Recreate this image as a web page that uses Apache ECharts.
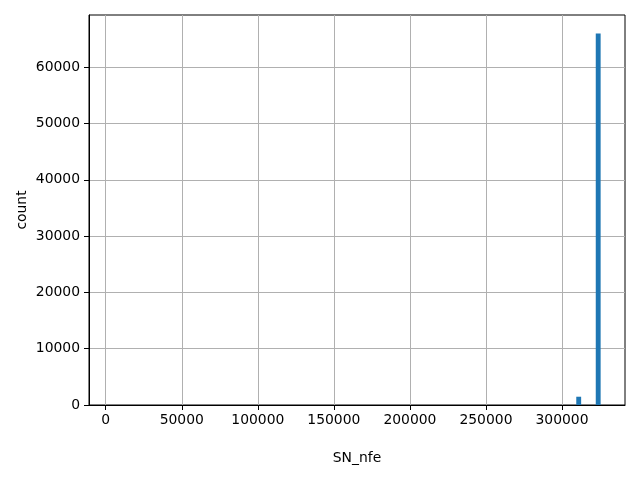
<!DOCTYPE html>
<html>
<head>
<meta charset="utf-8">
<script src="https://cdn.jsdelivr.net/npm/echarts@6/dist/echarts.min.js"></script>
<style>html,body{margin:0;padding:0;background:#fff}#c{width:640px;height:480px}</style>
</head>
<body>
<div id="c"></div>
<script>
const binStart = [309380, 322196];
const binEnd = [312584, 325400];
const counts = [1470, 65970];
const xTicks = [0, 50000, 100000, 150000, 200000, 250000, 300000];
const yTicks = [0, 10000, 20000, 30000, 40000, 50000, 60000];

const chart = echarts.init(document.getElementById('c'), null, {renderer: 'canvas'});
const font = 'DejaVu Sans';
const data = binStart.map((s, i) => [s, binEnd[i], counts[i]]);
const plain = v => String(v);
chart.setOption({
  animation: false,
  grid: {left: 89, right: 15, top: 15, bottom: 75, show: true, borderColor: '#000', borderWidth: 1, backgroundColor: 'transparent'},
  xAxis: {
    type: 'value', min: -10990, max: 341420,
    name: 'SN_nfe', nameLocation: 'middle', nameGap: 46, nameMoveOverlap: false,
    nameTextStyle: {fontFamily: font, fontSize: 13.9, color: '#000'},
    axisLine: {show: true, onZero: false, lineStyle: {color: '#000', width: 1}},
    axisTick: {show: true, inside: false, length: 5, lineStyle: {color: '#000'}, customValues: xTicks},
    axisLabel: {fontFamily: font, fontSize: 13.9, color: '#000', margin: 8, customValues: xTicks, formatter: plain},
    splitLine: {show: true, lineStyle: {color: '#b0b0b0', width: 1}}
  },
  yAxis: {
    type: 'value', min: 0, max: 69270,
    name: 'count', nameLocation: 'middle', nameGap: 60, nameRotate: 90, nameMoveOverlap: false,
    nameTextStyle: {fontFamily: font, fontSize: 13.9, color: '#000'},
    axisLine: {show: true, onZero: false, lineStyle: {color: '#000', width: 1}},
    axisTick: {show: true, inside: false, length: 5, lineStyle: {color: '#000'}, customValues: yTicks},
    axisLabel: {fontFamily: font, fontSize: 13.9, color: '#000', margin: 9, customValues: yTicks, formatter: plain},
    splitLine: {show: true, lineStyle: {color: '#b0b0b0', width: 1}}
  },
  series: [{
    type: 'custom',
    data: data,
    encode: {x: [0, 1], y: 2},
    renderItem: function (params, api) {
      const p0 = api.coord([api.value(0), api.value(2)]);
      const p1 = api.coord([api.value(1), 0]);
      return {
        type: 'rect',
        shape: {x: p0[0], y: p0[1], width: p1[0] - p0[0], height: p1[1] - p0[1]},
        style: {fill: '#1f77b4'}
      };
    }
  }]
});
</script>
</body>
</html>
